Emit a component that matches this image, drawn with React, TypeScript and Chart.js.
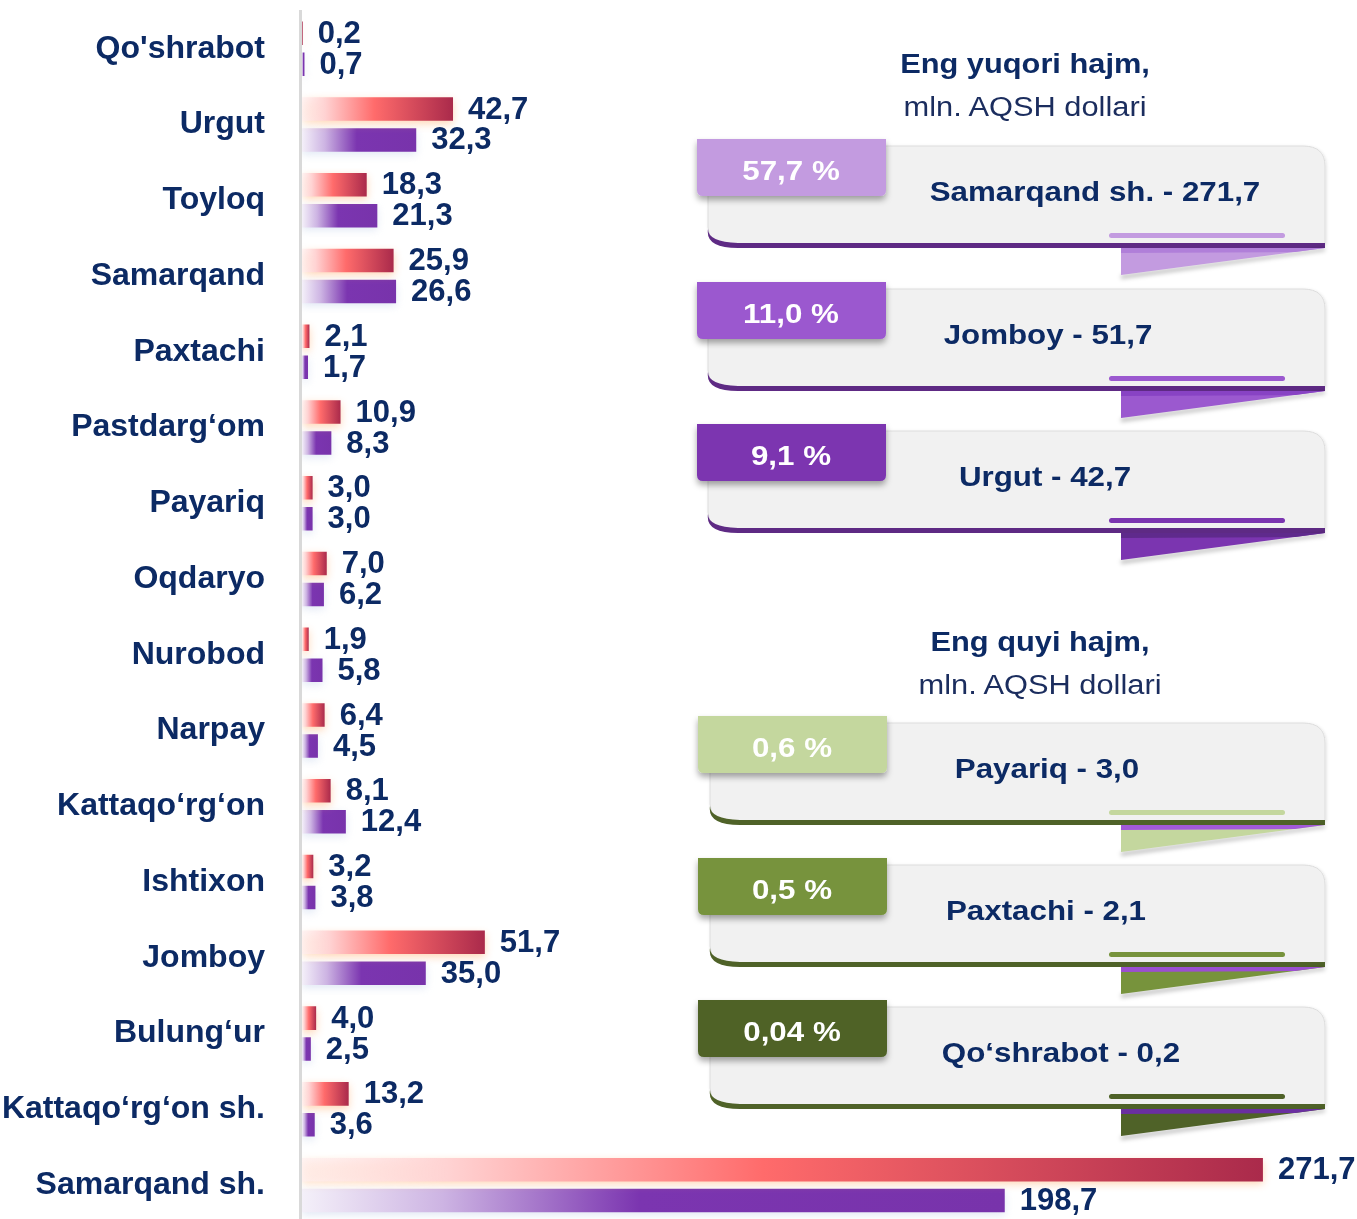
import React, { useEffect, useRef } from "react";
import { Chart, registerables } from "chart.js";

Chart.register(...registerables);

// ---------- data ----------
const categories = [
  "Qo'shrabot",
  "Urgut",
  "Toyloq",
  "Samarqand",
  "Paxtachi",
  "Pastdarg‘om",
  "Payariq",
  "Oqdaryo",
  "Nurobod",
  "Narpay",
  "Kattaqo‘rg‘on",
  "Ishtixon",
  "Jomboy",
  "Bulung‘ur",
  "Kattaqo‘rg‘on sh.",
  "Samarqand sh.",
];
const seriesRed = [0.2, 42.7, 18.3, 25.9, 2.1, 10.9, 3.0, 7.0, 1.9, 6.4, 8.1, 3.2, 51.7, 4.0, 13.2, 271.7];
const seriesPurple = [0.7, 32.3, 21.3, 26.6, 1.7, 8.3, 3.0, 6.2, 5.8, 4.5, 12.4, 3.8, 35.0, 2.5, 3.6, 198.7];

const topTitle = "Eng yuqori hajm,";
const bottomTitle = "Eng quyi hajm,";
const unitText = "mln. AQSH dollari";
const topNames = ["Samarqand sh.", "Jomboy", "Urgut"];
const topValues = [271.7, 51.7, 42.7];
const topShares = [57.7, 11.0, 9.1];
const bottomNames = ["Payariq", "Paxtachi", "Qo‘shrabot"];
const bottomValues = [3.0, 2.1, 0.2];
const bottomShares = [0.6, 0.5, 0.04];

// ---------- styles ----------
const FONT = "'Liberation Sans', Arial, sans-serif";
const NAVY = "#0c2a64";
const XMAX = 298.3;
const W = 1357;
const H = 1219;

const redStops: [number, string][] = [
  [0, "rgba(255,240,240,0.7)"],
  [0.15, "#ffd3d3"],
  [0.48, "#ff6b6b"],
  [1, "#aa2a4b"],
];
const purpleStops: [number, string][] = [
  [0, "#f4f0f9"],
  [0.2, "#cdb4e3"],
  [0.48, "#7b35b0"],
  [1, "#7833ab"],
];

const topTabColors = ["#c39be0", "#9b59cf", "#7b35b0"];
const topBandColors = ["#5e2a84", "#5e2a84", "#5e2a84"];
const topFoldStrip = ["#b07fd9", "#8843c4", "#5f2a8c"];
const topTextX = [1095, 1048, 1045];
const topTabY = [139, 282, 424];

const bottomTabColors = ["#c4d79e", "#77933c", "#4f6228"];
const bottomBandColors = ["#4f6228", "#4f6228", "#4f6228"];
const bottomFoldStrip = ["#a25ad8", "#9b4fd0", "#6a2fa0"];
const bottomTextX = [1047, 1046, 1061];
const bottomTabY = [716, 858, 1000];

function fmt(v: number): string {
  const s = v < 0.1 ? v.toFixed(2) : v.toFixed(1);
  return s.replace(".", ",");
}

function gradFill(stops: [number, string][]) {
  return (ctx: any) => {
    const chart = ctx.chart;
    const xs = chart.scales && chart.scales.x;
    const fallback = stops[stops.length - 1][1];
    if (!xs || ctx.type !== "data") return fallback;
    const v = ctx.raw as number;
    const x0 = xs.getPixelForValue(0);
    const x1 = xs.getPixelForValue(v);
    if (!isFinite(x0) || !isFinite(x1) || x1 - x0 < 1) return fallback;
    const g = chart.ctx.createLinearGradient(x0, 0, x1, 0);
    stops.forEach(([o, c]) => g.addColorStop(o, c));
    return g;
  };
}

const axisLinePlugin = {
  id: "axisLine",
  beforeDatasetsDraw(chart: any) {
    const c = chart.ctx;
    c.save();
    c.fillStyle = "#d9d9d9";
    c.fillRect(299, 10, 3, chart.height);
    c.restore();
  },
};

const shadowPlugin = {
  id: "barShadow",
  beforeDatasetDraw(chart: any, args: any) {
    const c = chart.ctx;
    c.save();
    if (args.index === 0) {
      c.shadowColor = "rgba(255,165,95,0.45)";
    } else {
      c.shadowColor = "rgba(170,190,225,0.35)";
    }
    c.shadowBlur = 8;
    c.shadowOffsetY = 3;
    c.shadowOffsetX = 0;
  },
  afterDatasetDraw(chart: any) {
    chart.ctx.restore();
  },
};

const valueLabelPlugin = {
  id: "valueLabels",
  afterDatasetsDraw(chart: any) {
    const c = chart.ctx;
    c.save();
    c.font = `bold 31px ${FONT}`;
    c.fillStyle = NAVY;
    c.textAlign = "left";
    c.textBaseline = "middle";
    chart.data.datasets.forEach((ds: any, i: number) => {
      const meta = chart.getDatasetMeta(i);
      meta.data.forEach((bar: any, j: number) => {
        const v = ds.data[j] as number;
        c.fillText(fmt(v), bar.x + 15, bar.y + 1);
      });
    });
    c.restore();
  },
};

function Card(props: {
  T: number;
  tabX: number;
  L: number;
  tabColor: string;
  bandColor: string;
  stripColor: string;
  share: string;
  text: string;
  textX: number;
}) {
  const { T, tabX, L, tabColor, bandColor, stripColor, share, text, textX } = props;
  const R = 1325;
  const body = `M ${L} ${T + 7} H ${R - 22} Q ${R} ${T + 7} ${R} ${T + 27} V ${T + 105} H ${L + 20} Q ${L} ${T + 104} ${L} ${T + 88} Z`;
  const band = `M ${L} ${T + 90} Q ${L} ${T + 103} ${L + 30} ${T + 104} H ${R} V ${T + 109} H ${L + 30} Q ${L - 3} ${T + 109} ${L} ${T + 90} Z`;
  const tab = `M ${tabX} ${T} H ${tabX + 189} V ${T + 51} Q ${tabX + 189} ${T + 57} ${tabX + 183} ${T + 57} H ${tabX + 6} Q ${tabX} ${T + 57} ${tabX} ${T + 51} Z`;
  return (
    <g>
      <path d={body} fill="#f1f1f1" stroke="#dddddd" strokeWidth={1} filter="url(#bodyShadow)" />
      <path d={band} fill={bandColor} />
      <rect x={1109} y={T + 94} width={176} height={5} rx={2.5} fill={tabColor} />
      <polygon
        points={`1121,${T + 136} ${R},${T + 109} ${R},${T + 112} 1121,${T + 140}`}
        fill="rgba(0,0,0,0.25)"
        filter="url(#blur2)"
      />
      <polygon points={`1121,${T + 109} ${R},${T + 109} 1121,${T + 136}`} fill={tabColor} />
      <polygon points={`1121,${T + 109} ${R},${T + 109} ${R - 30},${T + 113} 1121,${T + 114}`} fill={stripColor} />
      <path d={tab} fill={tabColor} filter="url(#tabShadow)" />
      <g transform={`translate(${tabX + 94} ${T + 31}) scale(1.12 1)`}>
        <text
          x={0}
          y={0}
          textAnchor="middle"
          dominantBaseline="central"
          fontFamily={FONT}
          fontWeight="bold"
          fontSize={28}
          fill="#ffffff"
        >
          {share}
        </text>
      </g>
      <g transform={`translate(${textX} ${T + 53}) scale(1.16 1)`}>
        <text
          x={0}
          y={0}
          textAnchor="middle"
          dominantBaseline="central"
          fontFamily={FONT}
          fontWeight="bold"
          fontSize={27}
          fill={NAVY}
        >
          {text}
        </text>
      </g>
    </g>
  );
}

function Title(props: { x: number; y1: number; y2: number; title: string }) {
  const { x, y1, y2, title } = props;
  return (
    <g>
      <g transform={`translate(${x} ${y1}) scale(1.1 1)`}>
        <text textAnchor="middle" dominantBaseline="central" fontFamily={FONT} fontWeight="bold" fontSize={28} fill={NAVY}>
          {title}
        </text>
      </g>
      <g transform={`translate(${x} ${y2}) scale(1.1 1)`}>
        <text textAnchor="middle" dominantBaseline="central" fontFamily={FONT} fontSize={28} fill="#1b2d5e">
          {unitText}
        </text>
      </g>
    </g>
  );
}

export default function App() {
  const ref = useRef<HTMLCanvasElement | null>(null);

  useEffect(() => {
    if (!ref.current) return;
    const chart = new Chart(ref.current, {
      type: "bar",
      data: {
        labels: categories,
        datasets: [
          {
            data: seriesRed,
            backgroundColor: gradFill(redStops) as any,
            borderWidth: 0,
            categoryPercentage: 0.817,
            barPercentage: 0.76,
          },
          {
            data: seriesPurple,
            backgroundColor: gradFill(purpleStops) as any,
            borderWidth: 0,
            categoryPercentage: 0.817,
            barPercentage: 0.76,
          },
        ],
      },
      options: {
        indexAxis: "y",
        responsive: false,
        maintainAspectRatio: false,
        animation: false,
        devicePixelRatio: 1,
        layout: { padding: { top: 10.8, right: 0, bottom: 0, left: 0 } },
        plugins: {
          legend: { display: false },
          tooltip: { enabled: false },
        },
        scales: {
          x: { display: false, min: 0, max: XMAX },
          y: {
            grid: { display: false, drawTicks: false },
            border: { display: false },
            ticks: {
              color: NAVY,
              font: { family: FONT, size: 32, weight: "bold" },
              padding: 37,
              autoSkip: false,
            },
            afterFit: (s: any) => {
              s.width = 302;
              s.paddingTop = 0;
              s.paddingBottom = 0;
            },
          },
        },
      } as any,
      plugins: [axisLinePlugin, shadowPlugin, valueLabelPlugin],
    });
    return () => chart.destroy();
  }, []);

  return (
    <div
      style={{
        position: "absolute",
        left: 0,
        top: 0,
        width: W,
        height: H,
        overflow: "hidden",
        background: "#ffffff",
      }}
    >
      <canvas ref={ref} width={W} height={1223} style={{ display: "block", width: W, height: 1223 }} />
      <svg width={W} height={H} style={{ position: "absolute", left: 0, top: 0, pointerEvents: "none" }}>
        <defs>
          <filter id="tabShadow" x="-10%" y="-20%" width="120%" height="160%">
            <feDropShadow dx="0" dy="4" stdDeviation="3" floodColor="#000000" floodOpacity="0.35" />
          </filter>
          <filter id="bodyShadow" x="-5%" y="-10%" width="110%" height="130%">
            <feDropShadow dx="1" dy="1" stdDeviation="1.5" floodColor="#000000" floodOpacity="0.12" />
          </filter>
          <filter id="blur2" x="-10%" y="-50%" width="120%" height="200%">
            <feGaussianBlur stdDeviation="2" />
          </filter>
        </defs>
        <Title x={1025} y1={63} y2={106} title={topTitle} />
        {topNames.map((n, i) => (
          <Card
            key={"t" + i}
            T={topTabY[i]}
            tabX={697}
            L={708}
            tabColor={topTabColors[i]}
            bandColor={topBandColors[i]}
            stripColor={topFoldStrip[i]}
            share={`${fmt(topShares[i])} %`}
            text={`${n} - ${fmt(topValues[i])}`}
            textX={topTextX[i]}
          />
        ))}
        <Title x={1040} y1={641} y2={684} title={bottomTitle} />
        {bottomNames.map((n, i) => (
          <Card
            key={"b" + i}
            T={bottomTabY[i]}
            tabX={698}
            L={710}
            tabColor={bottomTabColors[i]}
            bandColor={bottomBandColors[i]}
            stripColor={bottomFoldStrip[i]}
            share={`${fmt(bottomShares[i])} %`}
            text={`${n} - ${fmt(bottomValues[i])}`}
            textX={bottomTextX[i]}
          />
        ))}
      </svg>
    </div>
  );
}
